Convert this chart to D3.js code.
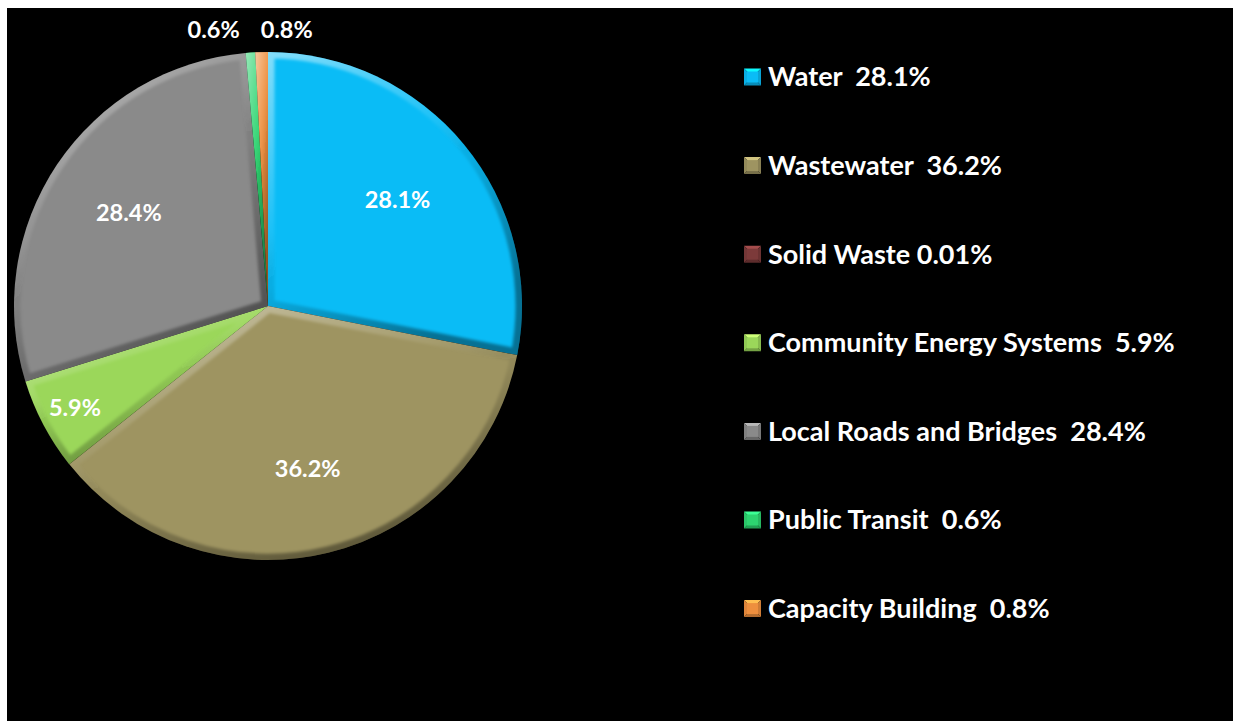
<!DOCTYPE html>
<html>
<head>
<meta charset="utf-8">
<script src="https://cdn.jsdelivr.net/npm/d3@7"></script>
<style>
  body { margin: 0; background: #fff; }
  text { font-family: Lato, "Open Sans", sans-serif; font-weight: bold; fill: #fff; white-space: pre; }
</style>
</head>
<body>
<div id="pie"></div>
<script>
var categories = ["Water", "Wastewater", "Solid Waste", "Community Energy Systems",
                  "Local Roads and Bridges", "Public Transit", "Capacity Building"];
var shares = [28.1, 36.2, 0.01, 5.9, 28.4, 0.6, 0.8];
var shareLabels = ["28.1%", "36.2%", "0.01%", "5.9%", "28.4%", "0.6%", "0.8%"];
var legendLabels = ["Water  28.1%", "Wastewater  36.2%", "Solid Waste 0.01%",
                    "Community Energy Systems  5.9%", "Local Roads and Bridges  28.4%",
                    "Public Transit  0.6%", "Capacity Building  0.8%"];
var colors = ["#0ABCF6", "#9E9461", "#7C3A3A", "#9BD75A", "#8A8A8A", "#2DD470", "#EE8F3E"];

var width = 1233, height = 721,
    cx = 268, cy = 306, radius = 254;

var svg = d3.select("#pie").append("svg")
    .attr("width", width)
    .attr("height", height);

svg.append("rect")
    .attr("x", 7).attr("y", 8)
    .attr("width", width - 7).attr("height", height - 8)
    .attr("fill", "#000");

var defs = svg.append("defs");
var bevel = defs.append("linearGradient")
    .attr("id", "bevel")
    .attr("x1", 0).attr("y1", 0).attr("x2", 0.55).attr("y2", 1);
bevel.append("stop").attr("offset", "0").attr("stop-color", "#fff").attr("stop-opacity", 0.5);
bevel.append("stop").attr("offset", "0.45").attr("stop-color", "#fff").attr("stop-opacity", 0.08);
bevel.append("stop").attr("offset", "0.6").attr("stop-color", "#000").attr("stop-opacity", 0.08);
bevel.append("stop").attr("offset", "1").attr("stop-color", "#000").attr("stop-opacity", 0.4);

defs.append("filter").attr("id", "soft")
  .attr("x", "-10%").attr("y", "-10%").attr("width", "120%").attr("height", "120%")
  .append("feGaussianBlur").attr("stdDeviation", 1.6);

var rows = categories.map(function(c, i) {
  return {name: c, value: shares[i], label: shareLabels[i], legend: legendLabels[i], color: colors[i]};
});

var pie = d3.pie().sort(null).value(function(d) { return d.value; });
var arcs = pie(rows);
var arc = d3.arc().innerRadius(0).outerRadius(radius);

var g = svg.append("g").attr("transform", "translate(" + cx + "," + cy + ")");

arcs.forEach(function(a, i) {
  defs.append("clipPath").attr("id", "clip" + i)
    .append("path").attr("d", arc(a));
});

g.selectAll(".slice")
  .data(arcs)
  .enter().append("path")
  .attr("class", "slice")
  .attr("d", arc)
  .attr("fill", function(d) { return d.data.color; });

// bevelled edge, clipped to the slice
g.selectAll(".edge")
  .data(arcs)
  .enter().append("g")
  .attr("class", "edge")
  .attr("clip-path", function(d, i) { return "url(#clip" + i + ")"; })
  .append("path")
  .attr("d", arc)
  .attr("filter", "url(#soft)")
  .attr("fill", "none")
  .attr("stroke", "url(#bevel)")
  .attr("stroke-width", 13)
  .attr("stroke-linejoin", "round");

// data labels
var inner = d3.arc().innerRadius(radius * 0.66).outerRadius(radius * 0.66);
var mid = d3.arc().innerRadius(radius * 0.86).outerRadius(radius * 0.86);
var outer = d3.arc().innerRadius(radius + 40).outerRadius(radius + 40);

var shown = arcs.filter(function(d) { return d.data.value >= 0.1; });
var outside = shown.filter(function(d) { return d.data.value < 2; });

g.selectAll(".lbl")
  .data(shown)
  .enter().append("text")
  .attr("class", "lbl")
  .style("font-size", "23.5px")
  .attr("dy", "0.35em")
  .text(function(d) { return d.data.label; })
  .each(function(d) {
    var t = d3.select(this), p;
    if (d.data.value < 2) {
      p = outer.centroid(d);
      var last = outside.indexOf(d) === outside.length - 1;
      t.attr("text-anchor", last ? "start" : "end")
       .attr("x", last ? p[0] : p[0] - 8)
       .attr("y", -radius - 22);
    } else {
      p = d.data.value < 10 ? mid.centroid(d) : inner.centroid(d);
      t.attr("text-anchor", "middle").attr("x", p[0]).attr("y", p[1]);
    }
  });

// legend
var legend = svg.selectAll(".legend")
  .data(rows)
  .enter().append("g")
  .attr("class", "legend")
  .attr("transform", function(d, i) { return "translate(744," + (77 + i * 88.6) + ")"; });

var s = 17;
legend.each(function(d) {
  var l = d3.select(this), c = d3.color(d.color);
  var tl = [0, -s / 2], tr = [s, -s / 2], br = [s, s / 2], bl = [0, s / 2], m = [s / 2, 0];
  var tri = [[tl, tr, c.brighter(0.8)], [tr, br, c.darker(0.4)], [br, bl, c.darker(0.8)], [bl, tl, c.darker(0.2)]];
  tri.forEach(function(t) {
    l.append("path")
      .attr("d", "M" + t[0] + "L" + t[1] + "L" + m + "Z")
      .attr("fill", t[2]);
  });
  l.append("rect").attr("x", 3).attr("y", -s / 2 + 3)
    .attr("width", s - 6).attr("height", s - 6).attr("fill", d.color);
});

legend.append("text")
  .attr("x", 24)
  .attr("dy", "0.35em")
  .style("font-size", "27px")
  .text(function(d) { return d.legend; });
</script>
</body>
</html>
